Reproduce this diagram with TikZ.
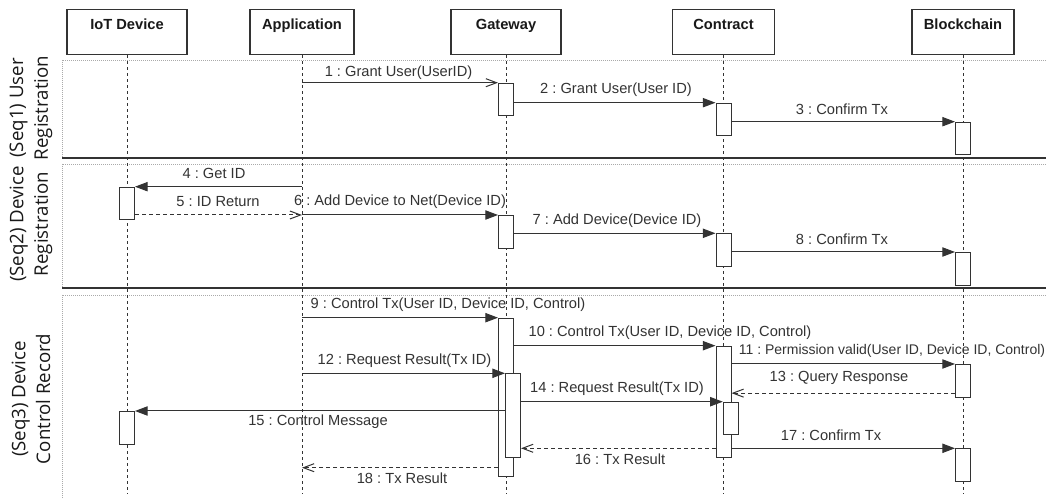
\documentclass[tikz,border=0pt]{standalone}
\usepackage{fontspec}
\setmainfont{Liberation Sans}
\newfontfamily\sidefont{Open Sans}
\usetikzlibrary{arrows.meta}
\definecolor{ink}{HTML}{333333}
\definecolor{framegray}{HTML}{AAAAAA}
\frenchspacing

\begin{document}
\begin{tikzpicture}[x=0.75pt,y=-0.75pt,
  hdr/.style={draw=ink, line width=0.9pt, fill=white, anchor=north, inner xsep=0pt, inner ysep=0pt,
    minimum height=33.75pt, text height=15.2pt, text depth=18.5pt,
    font=\fontsize{11}{13}\selectfont\bfseries, text=black!90},
  act/.style={draw=ink, line width=0.75pt, fill=white, anchor=north, inner sep=0pt,
    minimum width=11.25pt, minimum height=24.4pt},
  life/.style={draw=ink, line width=0.75pt, dash pattern=on 2.25pt off 2.25pt},
  msg/.style={draw=ink, line width=0.75pt, -{Triangle[length=9.5pt,width=7pt]}},
  call/.style={draw=ink, line width=0.75pt, -{Straight Barb[length=8pt,width=6pt]}},
  ret/.style={draw=ink, line width=0.75pt, dash pattern=on 3pt off 2.25pt, -{Straight Barb[length=8pt,width=6pt]}},
  lbl/.style={font=\fontsize{11}{13}\selectfont, text=ink, inner sep=0pt},
  frame/.style={draw=framegray, line width=0.5pt, densely dotted},
  sep/.style={draw=ink, line width=1.6pt},
  side/.style={font=\sidefont\fontsize{14}{18.5}\selectfont, rotate=90, align=center, text=black!90, inner sep=0pt}
]
\useasboundingbox (0,0) rectangle (1046,498);
\fill[white] (0,0) rectangle (1046,498);

% sequence frames and separators
\draw[frame] (62,60) rectangle (1060,158);
\draw[frame] (62,164) rectangle (1060,288);
\draw[frame] (62,295) rectangle (1060,510);
\draw[sep] (62,158) -- (1046,158);
\draw[sep] (62,288) -- (1046,288);

% side captions
\node[side] (s1) at (31,108) {(Seq1) User\\Registration};
\node[side] (s2) at (31,224) {(Seq2) Device\\Registration};
\node[side] (s3) at (31,399) {(Seq3) Device\\Control Record};

% participants
\node[hdr, minimum width=90pt]   (iot) at (127,9)   {IoT Device};
\node[hdr, minimum width=78pt]   (app) at (302,9)   {Application};
\node[hdr, minimum width=82.5pt] (gw)  at (506,9)   {Gateway};
\node[hdr, minimum width=76.5pt] (ct)  at (723.5,9) {Contract};
\node[hdr, minimum width=76.5pt] (bc)  at (963,9)   {Blockchain};

\coordinate (bottom) at (0,494);
\foreach \p in {iot,app,gw,ct,bc}
  \draw[life] (\p.south) -- (\p.south |- bottom);

% activations
\node[act] (g1) at (506,82.7) {};
\node[act] (c1) at (723.5,102.7) {};
\node[act] (b1) at (963,121.7) {};
\node[act] (i1) at (127,186.7) {};
\node[act] (g2) at (506,215) {};
\node[act] (c2) at (723.5,233.3) {};
\node[act] (b2) at (963,252) {};
\node[act, minimum height=118.5pt] (g3) at (506,317.7) {};
\node[act, minimum height=83.25pt] (c3) at (723.5,345.7) {};
\node[act] (b3) at (963,364) {};
\node[act, minimum height=62.5pt] (g4) at (513,373.3) {};
\node[act] (c4) at (730.8,401.7) {};
\node[act] (i2) at (127,411) {};
\node[act] (b4) at (963,448.3) {};

% Seq1 messages
\draw[call] (app |- g1.north) -- (g1.north west);
\draw[msg] (g1.east |- c1.north) -- (c1.north west);
\draw[msg] (c1.east |- b1.north) -- (b1.north west);
\node[lbl] (l1) at (398.5,72.7) {1 : Grant User(UserID)};
\node[lbl] (l2) at (616,90) {2 : Grant User(User ID)};
\node[lbl] (l3) at (842,109) {3 : Confirm Tx};

% Seq2 messages
\draw[msg] (app |- i1.north) -- (i1.north east);
\draw[ret] (i1.east |- g2.north) -- (app |- g2.north);
\draw[msg] (app |- g2.north) -- (g2.north west);
\draw[msg] (g2.east |- c2.north) -- (c2.north west);
\draw[msg] (c2.east |- b2.north) -- (b2.north west);
\node[lbl] (l4) at (214,173) {4 : Get ID};
\node[lbl] (l5) at (218,202) {5 : ID Return};
\node[lbl] (l6) at (400,202) {6 : Add Device to Net(Device ID)};
\node[lbl] (l7) at (617,220.7) {7 : Add Device(Device ID)};
\node[lbl] (l8) at (842,239.3) {8 : Confirm Tx};

% Seq3 messages
\coordinate (m13) at ([yshift=3.3pt]b3.south west);
\coordinate (m18) at ([yshift=6.75pt]g3.south west);
\draw[msg] (app |- g3.north) -- (g3.north west);
\draw[msg] (g3.east |- c3.north) -- (c3.north west);
\draw[msg] (c3.east |- b3.north) -- (b3.north west);
\draw[msg] (app |- g4.north) -- (g4.north west);
\draw[ret] (m13) -- (c3.east |- m13);
\draw[msg] (g4.east |- c4.north) -- (c4.north west);
\draw[msg] (g4.west |- i2.north) -- (i2.north east);
\draw[ret] (c3.west |- b4.north) -- (g4.east |- b4.north);
\draw[msg] (c3.east |- b4.north) -- (b4.north west);
\draw[ret] (m18) -- (app |- m18);
\node[lbl] (l9)  at (448,304.3) {9 : Control Tx(User ID, Device ID, Control)};
\node[lbl] (l10) at (670,332.7) {10 : Control Tx(User ID, Device ID, Control)};
\node[lbl, font=\fontsize{10.5}{12}\selectfont] (l11) at (892,351) {11 : Permission valid(User ID, Device ID, Control)};
\node[lbl] (l12) at (404.5,360.7) {12 : Request Result(Tx ID)};
\node[lbl] (l13) at (839,378.3) {13 : Query Response};
\node[lbl] (l14) at (617,388.3) {14 : Request Result(Tx ID)};
\node[lbl] (l15) at (318,421.7) {15 : Control Message};
\node[lbl] (l16) at (620,459) {16 : Tx Result};
\node[lbl] (l17) at (831,435) {17 : Confirm Tx};
\node[lbl] (l18) at (402,478.3) {18 : Tx Result};
\end{tikzpicture}
\end{document}
